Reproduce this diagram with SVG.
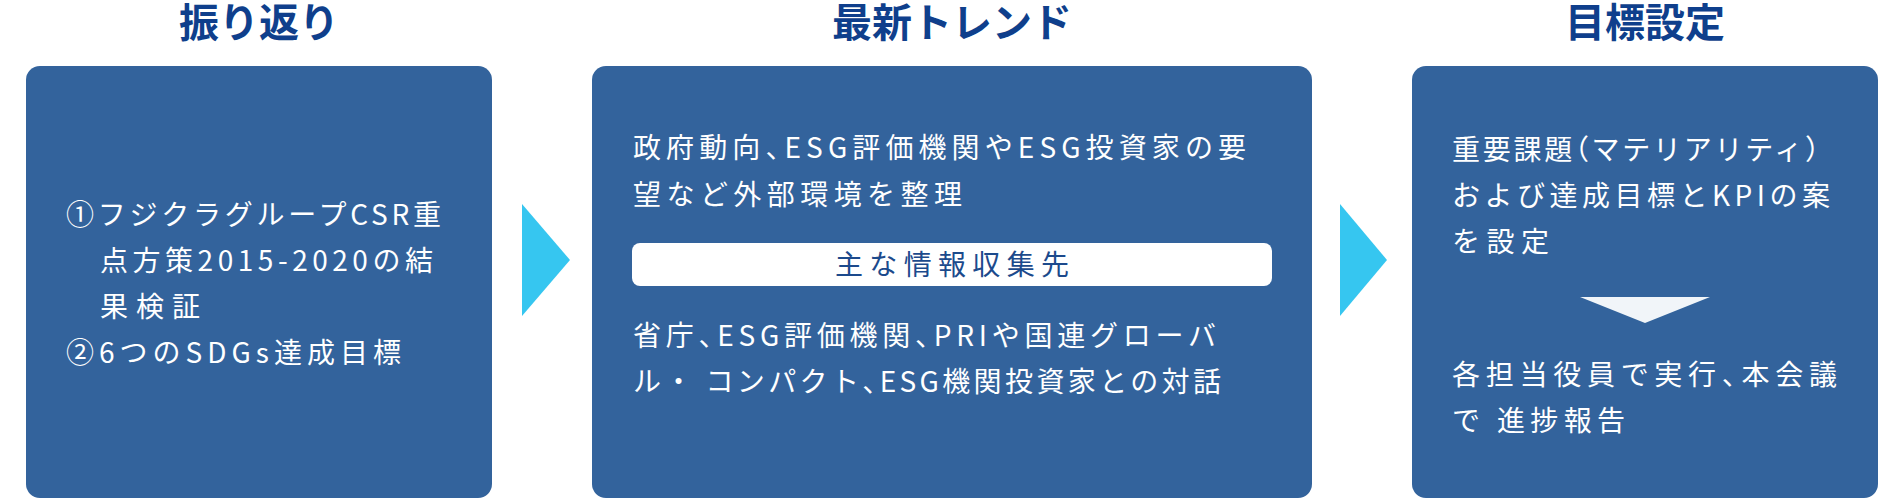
<svg xmlns="http://www.w3.org/2000/svg" width="1904" height="500" viewBox="0 0 1904 500">
<style>
.box{fill:#33639c}
.title{font-family:"Noto Sans CJK JP","Noto Sans",sans-serif;font-size:40px;font-weight:700;fill:#0f3f8c;text-anchor:middle}
.t{font-family:"Noto Sans CJK JP","Noto Sans",sans-serif;font-size:28px;font-weight:400;fill:#ffffff}
.pilltxt{font-family:"Noto Sans CJK JP","Noto Sans",sans-serif;font-size:28px;font-weight:400;fill:#1c4a8c;text-anchor:middle}
.h{font-feature-settings:"halt" 1}
.arrow{fill:#36c6f0}
.down{fill:#f1f5f9}
</style>
<rect width="1904" height="500" fill="#ffffff"/>
<g id="node-review">
<text class="title" x="259" y="37">振り返り</text>
<rect class="box" x="26" y="66" width="466" height="432" rx="14"/>
<text class="t" x="66" y="225" textLength="375" lengthAdjust="spacing">①フジクラグループCSR重</text>
<text class="t" x="100" y="271" textLength="333" lengthAdjust="spacing">点方策2015-2020の結</text>
<text class="t" x="100" y="317" textLength="100" lengthAdjust="spacing">果検証</text>
<text class="t" x="66" y="363" textLength="335" lengthAdjust="spacing">②6つのSDGs達成目標</text>
</g>
<g id="node-trend">
<text class="title" x="952" y="37">最新トレンド</text>
<rect class="box" x="592" y="66" width="720" height="432" rx="14"/>
<text class="t" x="633" y="158" textLength="613" lengthAdjust="spacing">政府動向<tspan class="h">、</tspan>ESG評価機関やESG投資家の要</text>
<text class="t" x="633" y="205" textLength="329" lengthAdjust="spacing">望など外部環境を整理</text>
<rect x="632" y="243" width="640" height="43" rx="8" fill="#ffffff"/>
<text class="pilltxt" x="952" y="275" textLength="234" lengthAdjust="spacing">主な情報収集先</text>
<text class="t" x="633" y="346" textLength="583" lengthAdjust="spacing">省庁<tspan class="h">、</tspan>ESG評価機関<tspan class="h">、</tspan>PRIや国連グローバ</text>
<text class="t" x="633" y="392" textLength="588" lengthAdjust="spacing">ル・ コンパクト<tspan class="h">、</tspan>ESG機関投資家との対話</text>
</g>
<g id="node-target">
<text class="title" x="1645" y="37">目標設定</text>
<rect class="box" x="1412" y="66" width="466" height="432" rx="14"/>
<text class="t" x="1452" y="160" textLength="367" lengthAdjust="spacing">重要課題<tspan class="h">（</tspan>マテリアリティ<tspan class="h">）</tspan></text>
<text class="t" x="1452" y="206" textLength="378" lengthAdjust="spacing">および達成目標とKPIの案</text>
<text class="t" x="1452" y="252" textLength="97" lengthAdjust="spacing">を設定</text>
<text class="t" x="1452" y="385" textLength="385" lengthAdjust="spacing">各担当役員で実行<tspan class="h">、</tspan>本会議</text>
<text class="t" x="1452" y="431" textLength="173" lengthAdjust="spacing">で 進捗報告</text>
</g>
<g id="connectors">
<polygon class="arrow" points="522,204 570,260 522,316"/>
<polygon class="arrow" points="1340,204 1387,260 1340,316"/>
<polygon class="down" points="1580,297 1710,297 1645,323"/>
</g>
</svg>
